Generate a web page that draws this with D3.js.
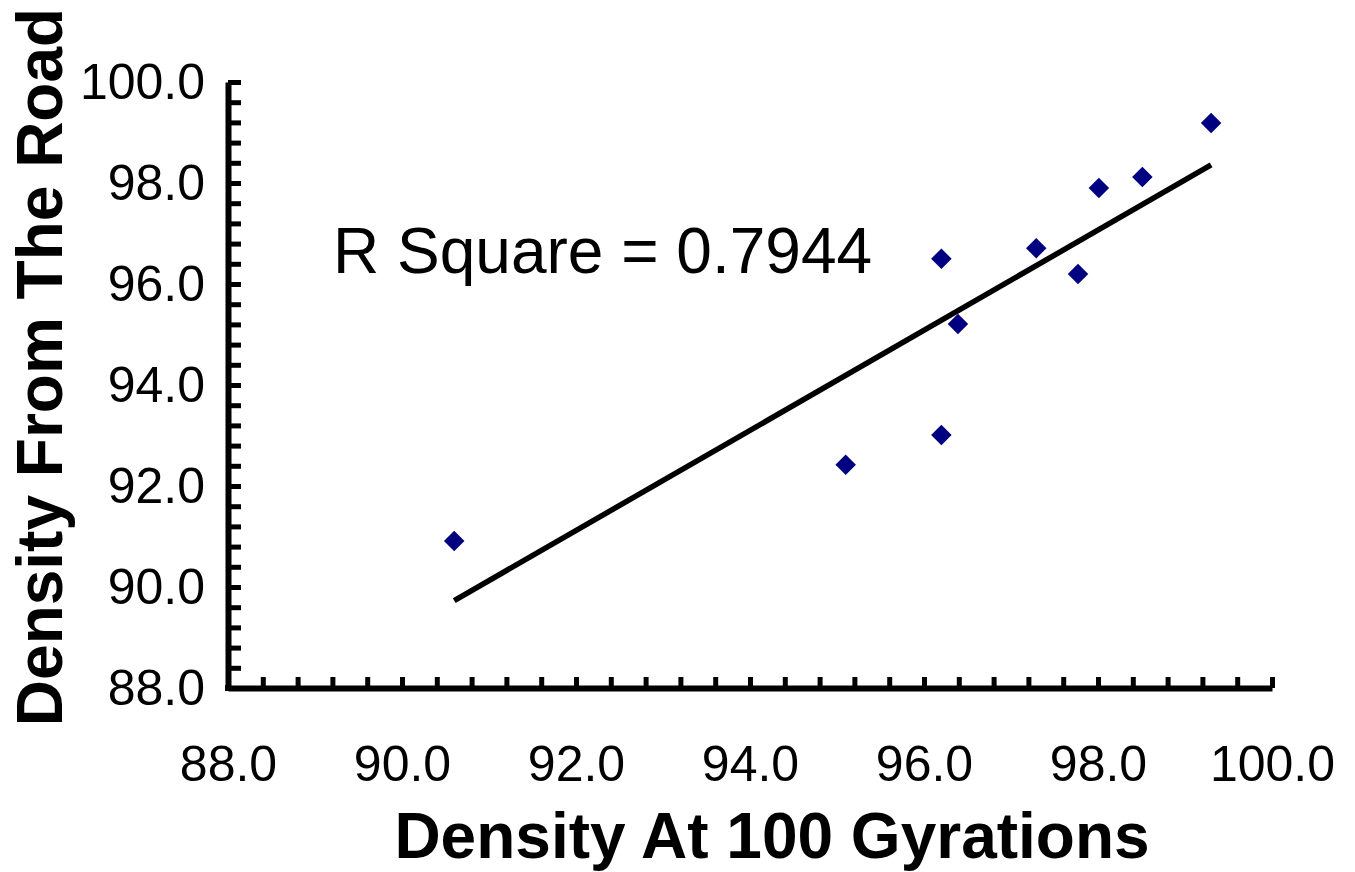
<!DOCTYPE html>
<html>
<head>
<meta charset="utf-8">
<script src="https://cdn.jsdelivr.net/npm/d3@7"></script>
<style>
  body { margin: 0; background: #fff; }
  svg text { font-family: "Liberation Sans", Arial, sans-serif; fill: #000; }
</style>
</head>
<body>
<script>
// readings
var gyration100 = [90.60, 95.10, 96.20, 96.20, 96.39, 97.29, 97.77, 98.01, 98.51, 99.30];
var roadDensity = [90.91, 92.42, 93.01, 96.50, 95.21, 96.71, 96.20, 97.90, 98.12, 99.19];
var tickLabels = [88, 90, 92, 94, 96, 98, 100];
var rSquareText = "R Square = 0.7944";

var width = 1355,
    height = 872;

var points = gyration100.map(function (d, i) {
    return {x: d, y: roadDensity[i]};
});

var x = d3.scaleLinear().domain([88, 100]).range([228, 1272]);
var y = d3.scaleLinear().domain([88, 100]).range([688, 82]);

// minor ticks every 0.4
var minor = d3.range(0, 31).map(function (i) { return +(88 + i * 0.4).toFixed(1); });

var svg = d3.select("body").append("svg")
    .attr("width", width)
    .attr("height", height);

// least squares trendline
var mx = d3.mean(points, function (d) { return d.x; }),
    my = d3.mean(points, function (d) { return d.y; });
var sxy = d3.sum(points, function (d) { return (d.x - mx) * (d.y - my); }),
    sxx = d3.sum(points, function (d) { return (d.x - mx) * (d.x - mx); });
var slope = sxy / sxx,
    icpt = my - slope * mx;
var xExt = d3.extent(points, function (d) { return d.x; });

svg.append("line")
    .attr("x1", x(xExt[0]))
    .attr("y1", y(icpt + slope * xExt[0]))
    .attr("x2", x(xExt[1]))
    .attr("y2", y(icpt + slope * xExt[1]))
    .attr("stroke", "#000")
    .attr("stroke-width", 5.5);

var fmt = function (d) {
    return tickLabels.indexOf(d) >= 0 ? d3.format(".1f")(d) : "";
};

var yAxis = svg.append("g")
    .attr("transform", "translate(228,0)")
    .call(d3.axisLeft(y).tickValues(minor).tickSize(-13).tickSizeOuter(0).tickPadding(23).tickFormat(fmt));

var xAxis = svg.append("g")
    .attr("transform", "translate(0,688)")
    .call(d3.axisBottom(x).tickValues(minor).tickSize(-11).tickSizeOuter(0).tickPadding(57).tickFormat(fmt));

[yAxis, xAxis].forEach(function (a) {
    a.select(".domain").attr("stroke", "#000").attr("stroke-width", 6);
    a.selectAll(".tick line").attr("stroke", "#000").attr("stroke-width", 5);
    a.selectAll(".tick text")
        .style("font-size", "50px")
        .style("font-family", "'Liberation Sans', Arial, sans-serif");
});
// close the corner
svg.append("rect").attr("x", 225).attr("y", 685).attr("width", 6).attr("height", 6).attr("fill", "#000");

svg.selectAll(".pt")
    .data(points)
    .enter()
    .append("path")
    .attr("class", "pt")
    .attr("d", d3.symbol().type(d3.symbolSquare).size(210))
    .attr("transform", function (d) {
        return "translate(" + x(d.x) + "," + y(d.y) + ")rotate(45)";
    })
    .attr("fill", "#000080");

svg.append("text")
    .attr("x", 333)
    .attr("y", 273)
    .attr("font-size", "64px")
    .text(rSquareText);

svg.append("text")
    .attr("x", 772)
    .attr("y", 858)
    .attr("text-anchor", "middle")
    .attr("font-size", "64px")
    .attr("font-weight", "bold")
    .text("Density At 100 Gyrations");

svg.append("text")
    .attr("transform", "translate(62,367)rotate(-90)")
    .attr("text-anchor", "middle")
    .attr("font-size", "64px")
    .attr("font-weight", "bold")
    .text("Density From The Road");
</script>
</body>
</html>
